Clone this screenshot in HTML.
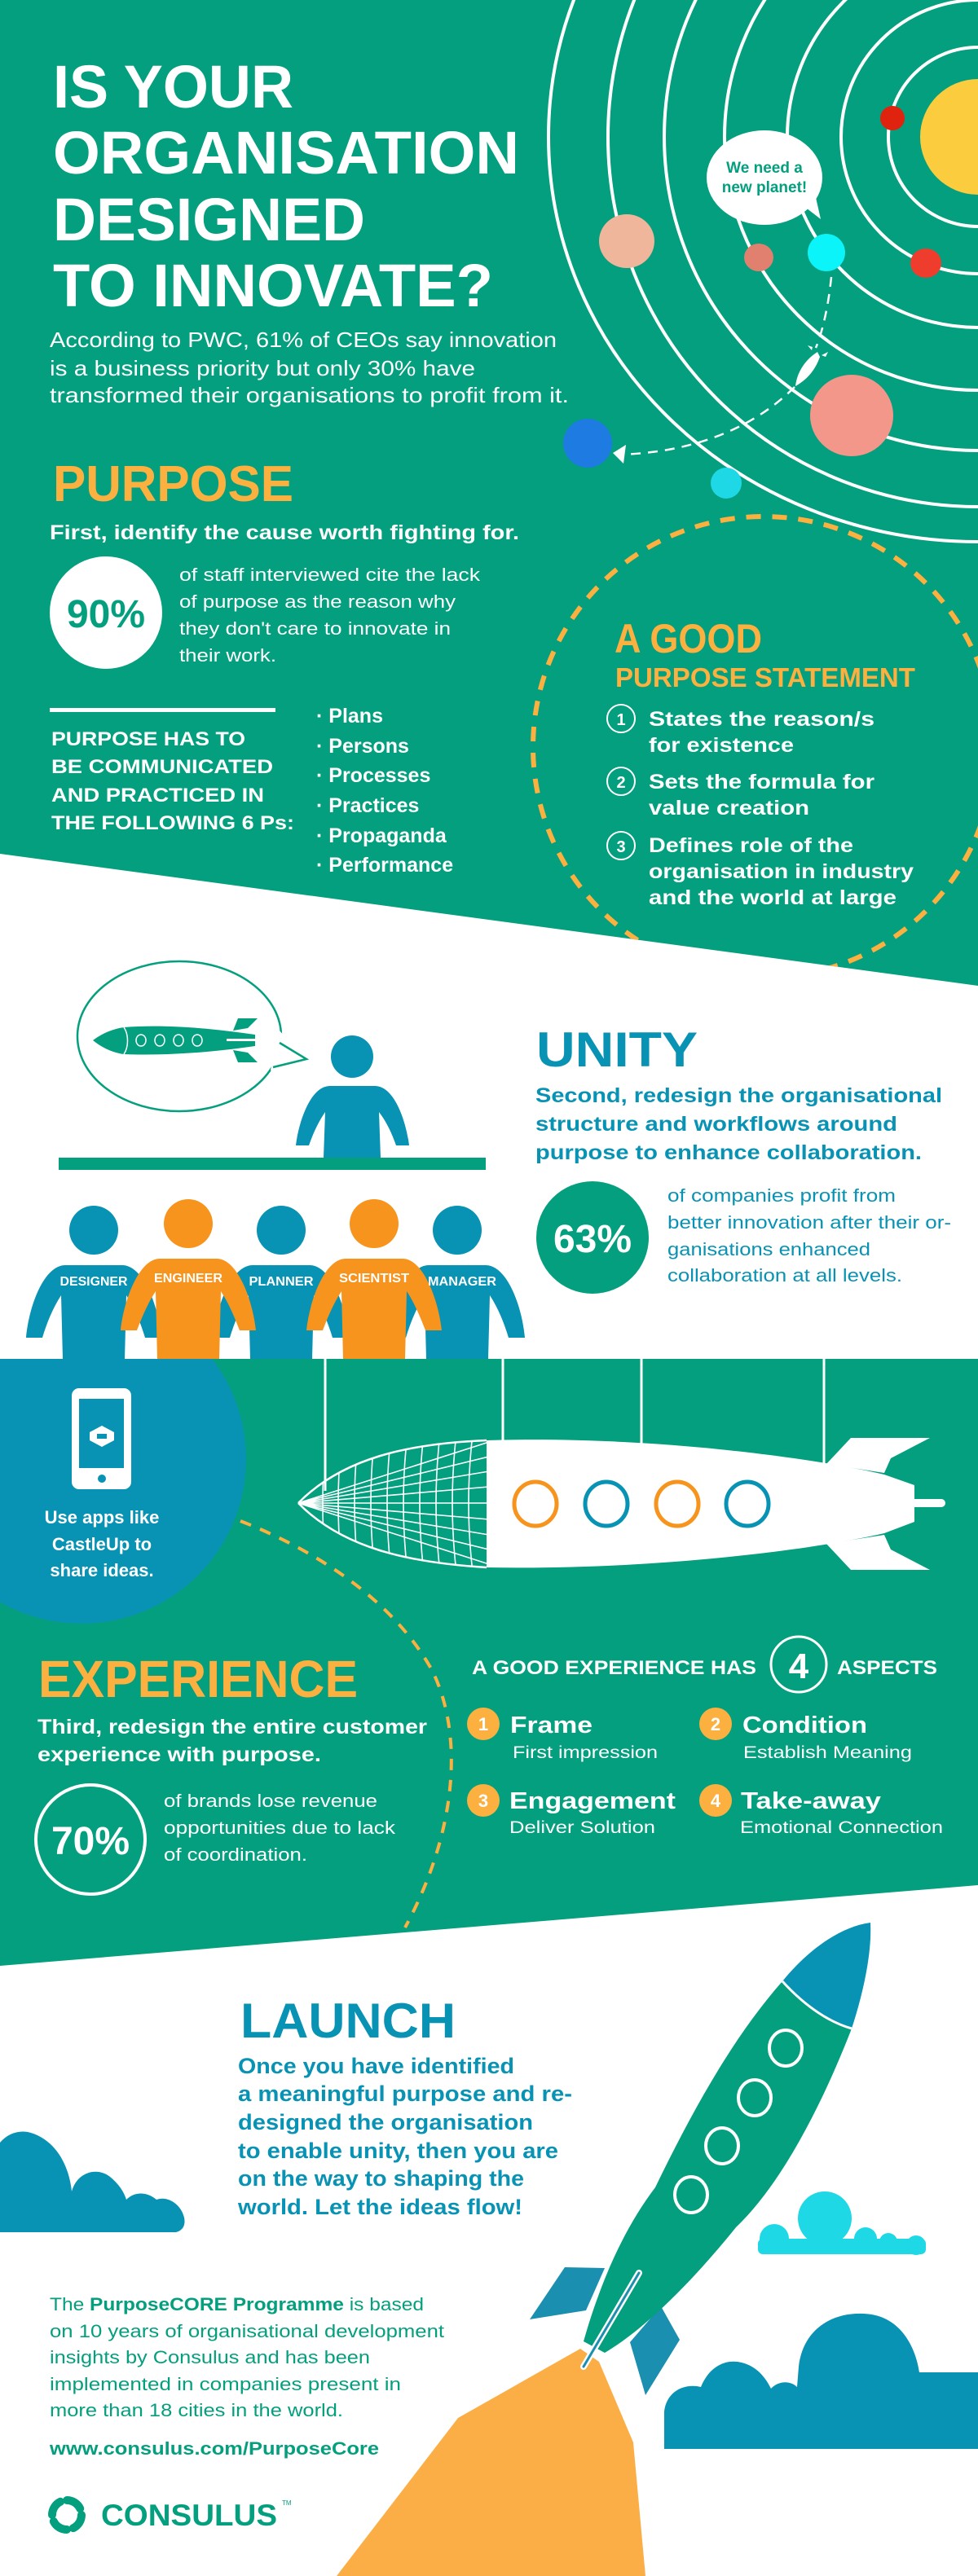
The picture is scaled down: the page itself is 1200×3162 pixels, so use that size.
<!DOCTYPE html>
<html><head><meta charset="utf-8"><style>
html,body{margin:0;padding:0;background:#fff}
svg{display:block}
text{font-family:"Liberation Sans",sans-serif}
</style></head><body>
<svg width="1200" height="3162" viewBox="0 0 1200 3162" xmlns="http://www.w3.org/2000/svg">
<defs>
<clipPath id="topgreen"><polygon points="0,0 1200,0 1200,1210 0,1048"/></clipPath>
<clipPath id="midgreen"><polygon points="0,1668 1200,1668 1200,2314 0,2413"/></clipPath>
<clipPath id="nose"><path d="M366,1845 C420,1790 500,1772 597,1768 L597,1924 C500,1918 420,1900 366,1845 Z"/></clipPath>
</defs>
<rect width="1200" height="3162" fill="#fff"/>
<!-- TOP GREEN -->
<polygon points="0,0 1200,0 1200,1210 0,1048" fill="#049F7E"/>
<g clip-path="url(#topgreen)">
 <g fill="none" stroke="#fff" stroke-width="4">
  <circle cx="1200" cy="168" r="110"/>
  <circle cx="1200" cy="168" r="168"/>
  <circle cx="1200" cy="168" r="234"/>
  <circle cx="1200" cy="168" r="311"/>
  <circle cx="1200" cy="168" r="385"/>
  <circle cx="1200" cy="168" r="454"/>
  <ellipse cx="1200" cy="168" rx="527" ry="497"/>
 </g>
 <circle cx="1200" cy="168" r="71" fill="#FACC3E"/>
 <circle cx="1095" cy="145" r="15" fill="#E0230F"/>
 <ellipse cx="769" cy="296" rx="34" ry="33" fill="#F0B69B"/>
 <ellipse cx="931" cy="316" rx="18" ry="17" fill="#E2806F"/>
 <ellipse cx="1014" cy="310" rx="23" ry="23" fill="#0AF4FA"/>
 <ellipse cx="1136" cy="323" rx="19" ry="18" fill="#EF3D2D"/>
 <ellipse cx="1045" cy="510" rx="51" ry="50" fill="#F4978B"/>
 <ellipse cx="721" cy="544" rx="30" ry="30" fill="#1D7BE2"/>
 <ellipse cx="891" cy="593" rx="19" ry="19" fill="#1ED8E6"/>
 <path d="M1020,340 C1016,380 1008,410 1001,427" fill="none" stroke="#fff" stroke-width="2.5" stroke-dasharray="12,9"/>
 <path d="M975,475 C930,520 860,555 760,558" fill="none" stroke="#fff" stroke-width="2.5" stroke-dasharray="12,9"/>
 <polygon points="752,556 768,546 765,569" fill="#fff"/>
 <path d="M976,474 C978,455 990,440 1003,432 L1006,438 C1000,455 990,466 976,474 Z" fill="#fff"/>
 <path d="M996,430 l-5,-6 6,2 z M1008,436 l8,-4 -3,6 z" fill="#fff"/>
 <ellipse cx="938" cy="218" rx="71" ry="58" fill="#fff"/>
 <polygon points="985,252 1007,269 1000,238" fill="#fff"/>
 <text x="938" y="212" font-size="19" font-weight="bold" fill="#049F7E" text-anchor="middle">We need a</text>
 <text x="938" y="236" font-size="19" font-weight="bold" fill="#049F7E" text-anchor="middle">new planet!</text>
 <circle cx="937" cy="917" r="283" fill="none" stroke="#FBB040" stroke-width="6" stroke-dasharray="18,14"/>
</g>
<g fill="#fff" font-weight="bold">
 <text x="65" y="132" font-size="74" textLength="295" lengthAdjust="spacingAndGlyphs">IS YOUR</text>
 <text x="65" y="213" font-size="74" textLength="572" lengthAdjust="spacingAndGlyphs">ORGANISATION</text>
 <text x="65" y="295" font-size="74" textLength="383" lengthAdjust="spacingAndGlyphs">DESIGNED</text>
 <text x="65" y="376" font-size="74" textLength="540" lengthAdjust="spacingAndGlyphs">TO INNOVATE?</text>
</g>
<g fill="#fff" font-size="26">
 <text x="61" y="426" textLength="622" lengthAdjust="spacingAndGlyphs">According to PWC, 61% of CEOs say innovation</text>
 <text x="61" y="461" textLength="522" lengthAdjust="spacingAndGlyphs">is a business priority but only 30% have</text>
 <text x="61" y="494" textLength="637" lengthAdjust="spacingAndGlyphs">transformed their organisations to profit from it.</text>
</g>
<text x="65" y="615" font-size="62" font-weight="bold" fill="#FBB040" textLength="295" lengthAdjust="spacingAndGlyphs">PURPOSE</text>
<text x="61" y="662" font-size="25" font-weight="bold" fill="#fff" textLength="576" lengthAdjust="spacingAndGlyphs">First, identify the cause worth fighting for.</text>
<circle cx="130" cy="752" r="69" fill="#fff"/>
<text x="130" y="770" font-size="48" font-weight="bold" fill="#049F7E" text-anchor="middle">90%</text>
<g fill="#fff" font-size="22">
 <text x="220" y="713" textLength="369" lengthAdjust="spacingAndGlyphs">of staff interviewed cite the lack</text>
 <text x="220" y="746" textLength="339" lengthAdjust="spacingAndGlyphs">of purpose as the reason why</text>
 <text x="220" y="779" textLength="333" lengthAdjust="spacingAndGlyphs">they don't care to innovate in</text>
 <text x="220" y="812" textLength="119" lengthAdjust="spacingAndGlyphs">their work.</text>
</g>
<rect x="61" y="869" width="277" height="5" fill="#fff"/>
<g fill="#fff" font-size="24" font-weight="bold">
 <text x="63" y="915" textLength="238" lengthAdjust="spacingAndGlyphs">PURPOSE HAS TO</text>
 <text x="63" y="949" textLength="272" lengthAdjust="spacingAndGlyphs">BE COMMUNICATED</text>
 <text x="63" y="984" textLength="261" lengthAdjust="spacingAndGlyphs">AND PRACTICED IN</text>
 <text x="63" y="1018" textLength="298" lengthAdjust="spacingAndGlyphs">THE FOLLOWING 6 Ps:</text>
</g>
<g fill="#fff" font-size="25" font-weight="bold">
 <text x="388" y="887">· Plans</text>
 <text x="388" y="924">· Persons</text>
 <text x="388" y="960">· Processes</text>
 <text x="388" y="997">· Practices</text>
 <text x="388" y="1034">· Propaganda</text>
 <text x="388" y="1070">· Performance</text>
</g>
<text x="754" y="801" font-size="50" font-weight="bold" fill="#FBB040" textLength="181" lengthAdjust="spacingAndGlyphs">A GOOD</text>
<text x="755" y="843" font-size="33" font-weight="bold" fill="#FBB040" textLength="368" lengthAdjust="spacingAndGlyphs">PURPOSE STATEMENT</text>
<g fill="none" stroke="#fff" stroke-width="2"><circle cx="762" cy="882" r="17"/><circle cx="762" cy="959" r="17"/><circle cx="762" cy="1038" r="17"/></g>
<g fill="#fff" font-weight="bold">
 <text x="762" y="890" font-size="20" text-anchor="middle">1</text>
 <text x="762" y="967" font-size="20" text-anchor="middle">2</text>
 <text x="762" y="1046" font-size="20" text-anchor="middle">3</text>
 <g font-size="25">
 <text x="796" y="891" textLength="277" lengthAdjust="spacingAndGlyphs">States the reason/s</text>
 <text x="796" y="923" textLength="178" lengthAdjust="spacingAndGlyphs">for existence</text>
 <text x="796" y="968" textLength="277" lengthAdjust="spacingAndGlyphs">Sets the formula for</text>
 <text x="796" y="1000" textLength="197" lengthAdjust="spacingAndGlyphs">value creation</text>
 <text x="796" y="1046" textLength="251" lengthAdjust="spacingAndGlyphs">Defines role of the</text>
 <text x="796" y="1078" textLength="325" lengthAdjust="spacingAndGlyphs">organisation in industry</text>
 <text x="796" y="1110" textLength="304" lengthAdjust="spacingAndGlyphs">and the world at large</text>
 </g>
</g>

<!-- UNITY -->
<ellipse cx="220" cy="1272" rx="125" ry="92" fill="#fff" stroke="#049F7E" stroke-width="2.5"/>
<polygon points="340,1262 376,1300 332,1314" fill="#fff"/>
<polyline points="343,1280 376,1300 335,1310" fill="none" stroke="#049F7E" stroke-width="2.5"/>
<path d="M114,1277 C130,1265 145,1262 152,1261 C200,1257 260,1262 313,1270 L313,1284 C260,1292 200,1296 152,1294 C145,1293 130,1290 114,1277 Z" fill="#049F7E"/>
<path d="M286,1265 L292,1250 L316,1250 L304,1262 Z M286,1289 L292,1304 L316,1304 L304,1292 Z" fill="#049F7E"/>
<path d="M152,1261 C158,1270 158,1285 152,1294" fill="none" stroke="#fff" stroke-width="1.5"/>
<g fill="none" stroke="#fff" stroke-width="1.5"><ellipse cx="173" cy="1277" rx="6" ry="7"/><ellipse cx="196" cy="1277" rx="6" ry="7"/><ellipse cx="219" cy="1277" rx="6" ry="7"/><ellipse cx="242" cy="1277" rx="6" ry="7"/></g>
<rect x="278" y="1275" width="45" height="3" fill="#fff"/>
<circle cx="432" cy="1297" r="26" fill="#0892B3"/>
<path d="M397,1421 L399,1365 C390,1378 384,1392 379,1406 L363,1406 C366,1380 380,1333 405,1333 L460,1333 C485,1333 499,1380 502,1406 L486,1406 C481,1392 475,1378 465,1365 L467,1421 Z" fill="#0892B3"/>
<rect x="72" y="1421" width="524" height="15" fill="#049F7E"/>

<g fill="#0892B3">
 <circle cx="115" cy="1510" r="30"/><circle cx="345" cy="1510" r="30"/><circle cx="561" cy="1510" r="30"/>
 <path d="M77,1668 L75,1590 C65,1605 57,1625 52,1642 L32,1642 C36,1600 55,1553 80,1553 L150,1553 C175,1553 194,1600 198,1642 L178,1642 C173,1625 165,1605 155,1590 L153,1668 Z"/>
 <path d="M307,1668 L305,1590 C295,1605 287,1625 282,1642 L262,1642 C266,1600 285,1553 310,1553 L380,1553 C405,1553 424,1600 428,1642 L408,1642 C403,1625 395,1605 385,1590 L383,1668 Z"/>
 <path d="M523,1668 L521,1590 C511,1605 503,1625 498,1642 L478,1642 C482,1600 501,1553 526,1553 L596,1553 C621,1553 640,1600 644,1642 L624,1642 C619,1625 611,1605 601,1590 L599,1668 Z"/>
</g>
<g fill="#F7941E">
 <circle cx="231" cy="1502" r="30"/><circle cx="459" cy="1502" r="30"/>
 <path d="M193,1668 L191,1585 C181,1600 173,1620 168,1633 L148,1633 C152,1595 171,1545 196,1545 L266,1545 C291,1545 310,1595 314,1633 L294,1633 C289,1620 281,1600 271,1585 L269,1668 Z"/>
 <path d="M421,1668 L419,1585 C409,1600 401,1620 396,1633 L376,1633 C380,1595 399,1545 424,1545 L494,1545 C519,1545 538,1595 542,1633 L522,1633 C517,1620 509,1600 499,1585 L497,1668 Z"/>
</g>
<g fill="#fff" font-size="16" font-weight="bold" text-anchor="middle">
 <text x="115" y="1578" textLength="83" lengthAdjust="spacingAndGlyphs">DESIGNER</text>
 <text x="231" y="1574" textLength="84" lengthAdjust="spacingAndGlyphs">ENGINEER</text>
 <text x="345" y="1578" textLength="79" lengthAdjust="spacingAndGlyphs">PLANNER</text>
 <text x="459" y="1574" textLength="86" lengthAdjust="spacingAndGlyphs">SCIENTIST</text>
 <text x="567" y="1578" textLength="84" lengthAdjust="spacingAndGlyphs">MANAGER</text>
</g>
<text x="658" y="1309" font-size="60" font-weight="bold" fill="#0892B3" textLength="198" lengthAdjust="spacingAndGlyphs">UNITY</text>
<g fill="#0892B3" font-size="25" font-weight="bold">
 <text x="657" y="1353" textLength="499" lengthAdjust="spacingAndGlyphs">Second, redesign the organisational</text>
 <text x="657" y="1388" textLength="444" lengthAdjust="spacingAndGlyphs">structure and workflows around</text>
 <text x="657" y="1423" textLength="474" lengthAdjust="spacingAndGlyphs">purpose to enhance collaboration.</text>
</g>
<circle cx="727" cy="1519" r="69" fill="#049F7E"/>
<text x="727" y="1537" font-size="48" font-weight="bold" fill="#fff" text-anchor="middle">63%</text>
<g fill="#0892B3" font-size="22">
 <text x="819" y="1475" textLength="280" lengthAdjust="spacingAndGlyphs">of companies profit from</text>
 <text x="819" y="1508" textLength="348" lengthAdjust="spacingAndGlyphs">better innovation after their or-</text>
 <text x="819" y="1541" textLength="249" lengthAdjust="spacingAndGlyphs">ganisations enhanced</text>
 <text x="819" y="1573" textLength="288" lengthAdjust="spacingAndGlyphs">collaboration at all levels.</text>
</g>

<!-- MID GREEN -->
<polygon points="0,1668 1200,1668 1200,2314 0,2413" fill="#049F7E"/>
<g clip-path="url(#midgreen)">
 <circle cx="100" cy="1791" r="202" fill="#0892B3"/>
 <path d="M295,1867 C380,1900 480,1960 530,2050 C570,2130 560,2250 497,2366" fill="none" stroke="#FBB040" stroke-width="4" stroke-dasharray="14,12"/>
</g>
<rect x="88" y="1704" width="73" height="124" rx="9" fill="#fff"/>
<rect x="97" y="1717" width="55" height="85" fill="#0892B3"/>
<circle cx="125" cy="1815" r="5" fill="#0892B3"/>
<path d="M110,1758 L125,1750 L140,1758 L140,1768 L125,1776 L110,1768 Z" fill="#fff"/>
<path d="M119,1760 L131,1760 L131,1766 L119,1766 Z" fill="#0892B3"/>
<g fill="#fff" font-size="22" font-weight="bold" text-anchor="middle">
 <text x="125" y="1870">Use apps like</text>
 <text x="125" y="1903">CastleUp to</text>
 <text x="125" y="1935">share ideas.</text>
</g>
<g stroke="#fff" stroke-width="3"><line x1="399" y1="1668" x2="399" y2="1830"/><line x1="617" y1="1668" x2="617" y2="1772"/><line x1="787" y1="1668" x2="787" y2="1775"/><line x1="1011" y1="1668" x2="1011" y2="1800"/></g>
<path d="M597,1768 C800,1762 1000,1790 1085,1810 L1122,1823 L1122,1868 L1085,1882 C1000,1902 800,1928 597,1924 Z" fill="#fff"/>
<path d="M1014,1797 L1044,1765 L1141,1765 L1093,1790 L1085,1808 Z M1014,1895 L1044,1927 L1141,1927 L1093,1902 L1085,1884 Z" fill="#fff"/>
<rect x="1000" y="1840" width="160" height="10" rx="5" fill="#fff"/>
<g fill="none" stroke-width="5"><ellipse cx="657" cy="1846" rx="26" ry="27" stroke="#F7941E"/><ellipse cx="744" cy="1846" rx="26" ry="27" stroke="#0892B3"/><ellipse cx="831" cy="1846" rx="26" ry="27" stroke="#F7941E"/><ellipse cx="917" cy="1846" rx="26" ry="27" stroke="#0892B3"/></g>
<g clip-path="url(#nose)" stroke="#fff" stroke-width="1.6" fill="none">
 <path d="M366,1845 L600,1770 M366,1845 L600,1788 M366,1845 L600,1806 M366,1845 L600,1825 M366,1845 L600,1845 M366,1845 L600,1865 M366,1845 L600,1884 M366,1845 L600,1902 M366,1845 L600,1920"/>
 <path d="M400,1760 Q392,1845 400,1930 M420,1760 Q410,1845 420,1930 M440,1760 Q430,1845 440,1930 M460,1760 Q450,1845 460,1930 M480,1760 Q470,1845 480,1930 M500,1760 Q490,1845 500,1930 M520,1760 Q510,1845 520,1930 M540,1760 Q530,1845 540,1930 M560,1760 Q550,1845 560,1930 M580,1760 Q570,1845 580,1930"/>
</g>
<path d="M366,1845 C420,1790 500,1772 597,1768 M366,1845 C420,1900 500,1918 597,1924" fill="none" stroke="#fff" stroke-width="2.5"/>
<text x="47" y="2083" font-size="64" font-weight="bold" fill="#FBB040" textLength="392" lengthAdjust="spacingAndGlyphs">EXPERIENCE</text>
<g fill="#fff" font-size="25" font-weight="bold">
 <text x="46" y="2128" textLength="478" lengthAdjust="spacingAndGlyphs">Third, redesign the entire customer</text>
 <text x="46" y="2162" textLength="348" lengthAdjust="spacingAndGlyphs">experience with purpose.</text>
</g>
<circle cx="111" cy="2258" r="67" fill="none" stroke="#fff" stroke-width="4"/>
<text x="111" y="2276" font-size="48" font-weight="bold" fill="#fff" text-anchor="middle">70%</text>
<g fill="#fff" font-size="22">
 <text x="201" y="2218" textLength="262" lengthAdjust="spacingAndGlyphs">of brands lose revenue</text>
 <text x="201" y="2251" textLength="284" lengthAdjust="spacingAndGlyphs">opportunities due to lack</text>
 <text x="201" y="2284" textLength="176" lengthAdjust="spacingAndGlyphs">of coordination.</text>
</g>
<text x="579" y="2055" font-size="24" font-weight="bold" fill="#fff" textLength="349" lengthAdjust="spacingAndGlyphs">A GOOD EXPERIENCE HAS</text>
<circle cx="980" cy="2043" r="34" fill="none" stroke="#fff" stroke-width="3"/>
<text x="980" y="2060" font-size="44" font-weight="bold" fill="#fff" text-anchor="middle">4</text>
<text x="1027" y="2055" font-size="24" font-weight="bold" fill="#fff" textLength="123" lengthAdjust="spacingAndGlyphs">ASPECTS</text>
<g fill="#FBB040"><circle cx="593" cy="2116" r="20"/><circle cx="878" cy="2116" r="20"/><circle cx="593" cy="2210" r="20"/><circle cx="878" cy="2210" r="20"/></g>
<g fill="#fff" font-weight="bold" font-size="22" text-anchor="middle">
 <text x="593" y="2124">1</text><text x="878" y="2124">2</text><text x="593" y="2218">3</text><text x="878" y="2218">4</text>
</g>
<g fill="#fff" font-weight="bold" font-size="29">
 <text x="626" y="2127" textLength="101" lengthAdjust="spacingAndGlyphs">Frame</text>
 <text x="911" y="2127" textLength="153" lengthAdjust="spacingAndGlyphs">Condition</text>
 <text x="625" y="2220" textLength="204" lengthAdjust="spacingAndGlyphs">Engagement</text>
 <text x="909" y="2220" textLength="172" lengthAdjust="spacingAndGlyphs">Take-away</text>
</g>
<g fill="#fff" font-size="21">
 <text x="629" y="2158" textLength="178" lengthAdjust="spacingAndGlyphs">First impression</text>
 <text x="912" y="2158" textLength="207" lengthAdjust="spacingAndGlyphs">Establish Meaning</text>
 <text x="625" y="2250" textLength="179" lengthAdjust="spacingAndGlyphs">Deliver Solution</text>
 <text x="908" y="2250" textLength="249" lengthAdjust="spacingAndGlyphs">Emotional Connection</text>
</g>

<!-- LAUNCH -->
<g fill="#0892B3">
 <path d="M0,2740 L0,2630 C10,2618 25,2614 38,2618 C70,2628 85,2660 88,2690 C95,2665 120,2660 135,2672 C145,2680 152,2690 155,2700 C165,2690 180,2690 192,2700 C205,2695 222,2705 226,2722 C228,2732 224,2738 216,2740 Z"/>
 <path d="M815,3006 L815,2960 C818,2935 840,2925 860,2930 C870,2905 890,2895 910,2900 C930,2905 940,2920 946,2932 C955,2922 970,2922 978,2930 L980,2905 C985,2860 1020,2838 1060,2840 C1110,2842 1125,2890 1128,2912 L1200,2912 L1200,3006 Z"/>
</g>
<g fill="#1ED8E6">
 <circle cx="1012" cy="2723" r="33"/>
 <circle cx="950" cy="2748" r="18"/>
 <circle cx="1062" cy="2748" r="14"/>
 <circle cx="1090" cy="2752" r="11"/>
 <circle cx="1124" cy="2756" r="12"/>
 <rect x="930" y="2748" width="206" height="19" rx="6"/>
</g>
<polygon points="712,2883 735,2899 777,2998 792,3162 413,3162 562,2968" fill="#FBAE45"/>
<path d="M693,2783 L742,2784 L719,2836 L650,2847 Z" fill="#1A8FB0"/>
<path d="M811,2831 L834,2872 L792,2940 L773,2875 Z" fill="#1A8FB0"/>
<path d="M960,2432 C1000,2470 1025,2485 1045,2490 C1010,2580 960,2680 903,2734 C850,2800 790,2860 742,2888 L716,2874 C740,2790 770,2730 804,2685 C850,2590 900,2500 960,2432 Z" fill="#049F7E"/>
<path d="M960,2432 C990,2395 1030,2365 1068,2360 C1070,2400 1058,2450 1045,2490 C1020,2483 990,2465 960,2432 Z" fill="#0892B3"/>
<path d="M960,2432 C990,2465 1020,2483 1045,2490" fill="none" stroke="#fff" stroke-width="3"/>
<g fill="none" stroke="#fff" stroke-width="4"><ellipse cx="964" cy="2514" rx="20" ry="22"/><ellipse cx="926" cy="2575" rx="20" ry="22"/><ellipse cx="886" cy="2634" rx="20" ry="22"/><ellipse cx="848" cy="2694" rx="20" ry="22"/></g>
<line x1="784" y1="2790" x2="716" y2="2905" stroke="#fff" stroke-width="8" stroke-linecap="round"/>
<line x1="784" y1="2790" x2="716" y2="2905" stroke="#1A8FB0" stroke-width="3" stroke-linecap="round"/>
<text x="295" y="2501" font-size="60" font-weight="bold" fill="#0892B3" textLength="264" lengthAdjust="spacingAndGlyphs">LAUNCH</text>
<g fill="#0892B3" font-size="27" font-weight="bold">
 <text x="292" y="2545" textLength="339" lengthAdjust="spacingAndGlyphs">Once you have identified</text>
 <text x="292" y="2579" textLength="410" lengthAdjust="spacingAndGlyphs">a meaningful purpose and re-</text>
 <text x="292" y="2614" textLength="362" lengthAdjust="spacingAndGlyphs">designed the organisation</text>
 <text x="292" y="2649" textLength="393" lengthAdjust="spacingAndGlyphs">to enable unity, then you are</text>
 <text x="292" y="2683" textLength="351" lengthAdjust="spacingAndGlyphs">on the way to shaping the</text>
 <text x="292" y="2718" textLength="349" lengthAdjust="spacingAndGlyphs">world. Let the ideas flow!</text>
</g>
<g fill="#049F7E" font-size="22">
 <text x="61" y="2836" textLength="459" lengthAdjust="spacingAndGlyphs">The <tspan font-weight="bold">PurposeCORE Programme</tspan> is based</text>
 <text x="61" y="2869" textLength="484" lengthAdjust="spacingAndGlyphs">on 10 years of organisational development</text>
 <text x="61" y="2901" textLength="393" lengthAdjust="spacingAndGlyphs">insights by Consulus and has been</text>
 <text x="61" y="2934" textLength="431" lengthAdjust="spacingAndGlyphs">implemented in companies present in</text>
 <text x="61" y="2966" textLength="360" lengthAdjust="spacingAndGlyphs">more than 18 cities in the world.</text>
 <text x="61" y="3013" font-weight="bold" textLength="404" lengthAdjust="spacingAndGlyphs">www.consulus.com/PurposeCore</text>
</g>
<circle cx="82" cy="3087" r="18" fill="none" stroke="#049F7E" stroke-width="10" stroke-dasharray="20,8.3" stroke-linecap="round"/>
<text x="124" y="3100" font-size="37" font-weight="bold" fill="#049F7E" textLength="216" lengthAdjust="spacingAndGlyphs">CONSULUS</text>
<text x="346" y="3075" font-size="8" fill="#049F7E">TM</text>
</svg>
</body></html>
